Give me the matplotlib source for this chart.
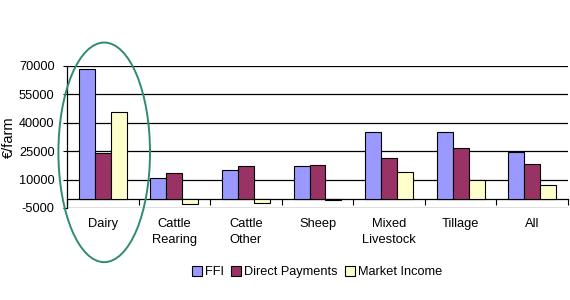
import matplotlib
matplotlib.use("Agg")
import matplotlib.pyplot as plt
import numpy as np
from matplotlib.patches import Ellipse
from matplotlib.ticker import FixedLocator, NullFormatter

plt.rcParams['font.family'] = ['Liberation Sans', 'DejaVu Sans']

categories = ["Dairy", "Cattle\nRearing", "Cattle\nOther", "Sheep", "Mixed\nLivestock", "Tillage", "All"]
ffi = [68500, 10900, 14900, 17000, 35300, 35300, 24700]
direct_payments = [24000, 13500, 17000, 17800, 21200, 26800, 18500]
market_income = [45500, -2800, -2100, -900, 14200, 9600, 7000]
yticks = [-5000, 10000, 25000, 40000, 55000, 70000]

series = [("FFI", ffi, "#9999FF"),
          ("Direct Payments", direct_payments, "#993366"),
          ("Market Income", market_income, "#FFFFCC")]

fig = plt.figure(figsize=(5.7, 3.0), dpi=100)
ax = fig.add_axes([67/570, 1-208/300, 501/570, 142/300])

x = np.arange(len(categories))
bw = 0.223
for i, (name, vals, col) in enumerate(series):
    ax.bar(x + (i - 1) * bw, vals, width=bw, color=col, edgecolor="black",
           linewidth=0.8, label=name, zorder=3)

ax.set_xlim(-0.5, len(categories) - 0.5)
ax.set_ylim(yticks[0], yticks[-1])
ax.set_yticks(yticks)
ax.set_yticklabels([str(v) for v in yticks], fontsize=9.2)
ax.tick_params(axis='y', length=3, width=0.8, pad=6)
ax.yaxis.grid(True, color="black", linewidth=0.9, zorder=0)
ax.set_axisbelow(True)

# category axis crosses at zero
ax.spines['bottom'].set_position(('data', 0))
ax.spines['bottom'].set_linewidth(0.9)
ax.spines['top'].set_visible(False)
ax.spines['right'].set_visible(False)
ax.spines['left'].set_linewidth(0.9)
ax.set_xticks(x)
ax.set_xticklabels(categories, fontsize=9.3, linespacing=1.45)
ax.tick_params(axis='x', which='major', length=0, pad=14)
ax.xaxis.set_minor_locator(FixedLocator(np.arange(len(categories) + 1) - 0.5))
ax.xaxis.set_minor_formatter(NullFormatter())
ax.tick_params(axis='x', which='minor', length=4, width=0.8, direction='out')

ax.set_ylabel("€/farm", fontsize=10.5, labelpad=2)

ell = Ellipse((0.02, 24400), width=1.28, height=116000, fill=False,
              edgecolor="#2E8B74", linewidth=1.4, clip_on=False, zorder=5)
ax.add_patch(ell)

fig.legend(loc='center', bbox_to_anchor=(317/570, 1-272/300), ncol=3,
           frameon=False, fontsize=9.2, handlelength=0.8, handleheight=0.8,
           handletextpad=0.2, columnspacing=0.6)

fig.savefig("out.png", dpi=100)
